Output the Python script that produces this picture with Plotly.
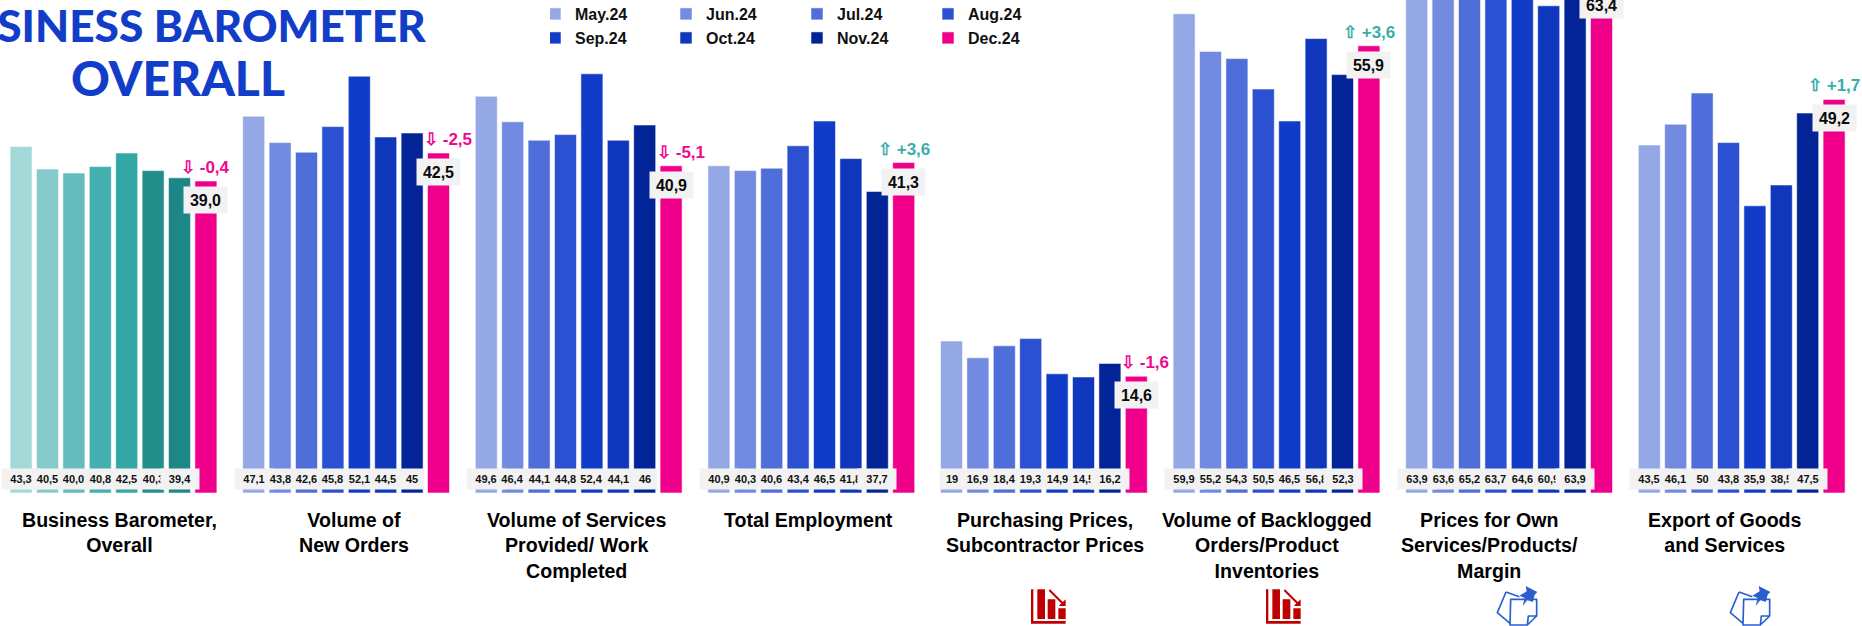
import base64
import plotly.graph_objects as go

# Survey panels and monthly readings
months = ["May.24", "Jun.24", "Jul.24", "Aug.24", "Sep.24", "Oct.24", "Nov.24", "Dec.24"]
panels = [
    "Business Barometer,<br>Overall",
    "Volume of<br>New Orders",
    "Volume of Services<br>Provided/ Work<br>Completed",
    "Total Employment",
    "Purchasing Prices,<br>Subcontractor Prices",
    "Volume of Backlogged<br>Orders/Product<br>Inventories",
    "Prices for Own<br>Services/Products/<br>Margin",
    "Export of Goods<br>and Services",
]
overall = [43.3, 40.5, 40.0, 40.8, 42.5, 40.3, 39.4, 39.0]
new_orders = [47.1, 43.8, 42.6, 45.8, 52.1, 44.5, 45, 42.5]
services = [49.6, 46.4, 44.1, 44.8, 52.4, 44.1, 46, 40.9]
employment = [40.9, 40.3, 40.6, 43.4, 46.5, 41.8, 37.7, 41.3]
purchasing = [19, 16.9, 18.4, 19.3, 14.9, 14.5, 16.2, 14.6]
backlog = [59.9, 55.2, 54.3, 50.5, 46.5, 56.8, 52.3, 55.9]
own_prices = [63.9, 63.6, 65.2, 63.7, 64.6, 60.9, 63.9, 63.4]
exports = [43.5, 46.1, 50, 43.8, 35.9, 38.5, 47.5, 49.2]
series = [overall, new_orders, services, employment, purchasing, backlog, own_prices, exports]
changes = ["⇩ -0,4", "⇩ -2,5", "⇩ -5,1", "⇧ +3,6", "⇩ -1,6", "⇧ +3,6", None, "⇧ +1,7"]
change_shift_px = [0, 9, 10, 0, 9, 0, 0, 0]

blues = ["#95A8E6", "#728BE0", "#4F6ED9", "#2B50D1", "#113CC8", "#0E37BC", "#022496", "#F0008A"]
teals = ["#A3D9D8", "#85CBC9", "#64BCBC", "#43B0AF", "#32A7A5", "#248E8B", "#1D8686", "#F0008A"]
PINK = "#F0088F"
TEAL = "#3AADAA"
TITLE_BLUE = "#123DC8"
LABEL_BG = "#F2F2F2"
FONT = "Liberation Sans"

# Page geometry, in pixels
W, H = 1862, 626
BASE_Y = 493
PX_PER_UNIT = 8.0
GROUP_PX = 232.6
SLOT_PX = 26.4
BAR_PX = 22.0
FIRST_CENTER_PX = 113.5
Y_MAX = BASE_Y / PX_PER_UNIT


def slot_x(group, month):
    return group + (month - 3.5) * SLOT_PX / GROUP_PX


def px_to_x(px):
    return (px - FIRST_CENTER_PX) / GROUP_PX


def value_text(value, group):
    # The overall panel keeps one decimal on every reading
    text = f"{value:.1f}" if group == 0 else f"{value:g}"
    return text.replace(".", ",")


fig = go.Figure()
# The teal overall panel is listed last in each trace so the legend keys stay blue
order = list(range(1, len(panels))) + [0]
for m, month in enumerate(months):
    fig.add_trace(go.Bar(
        x=order,
        y=[series[g][m] for g in order],
        name=month,
        legend="legend" if m < 4 else "legend2",
        marker=dict(
            color=[blues[m]] * (len(panels) - 1) + [teals[m]],
            line=dict(color="rgba(255,255,255,0.55)", width=1),
        ),
        hoverinfo="y",
    ))

annotations = []
for g, values in enumerate(series):
    # Value chips along the foot of the bars; the outer chips are wider
    for m, v in enumerate(values[:-1]):
        text = value_text(v, g)
        chip_w = 7 * len(text) + 8 if m in (0, 6) else 27
        annotations.append(dict(
            x=slot_x(g, m), xref="x", y=(BASE_Y - 479) / BASE_Y, yref="paper",
            text=f"<b>{text}</b>", showarrow=False, xanchor="center", yanchor="middle",
            font=dict(family=FONT, size=11, color="#111111"),
            bgcolor=LABEL_BG, width=chip_w, height=18,
        ))
    # December callout chip hanging from the bar top
    annotations.append(dict(
        x=slot_x(g, 7), xref="x", y=values[-1] / Y_MAX, yref="paper", yshift=-5,
        text=f"<b>{values[-1]:.1f}</b>".replace(".", ","), showarrow=False,
        xanchor="center", yanchor="top",
        font=dict(family=FONT, size=16, color="#0A0A0A"),
        bgcolor=LABEL_BG, width=41, height=24,
    ))
    if changes[g]:
        annotations.append(dict(
            x=slot_x(g, 7), xref="x", xshift=change_shift_px[g],
            y=values[-1] / Y_MAX, yref="paper", yshift=2,
            text=f"<b>{changes[g]}</b>", showarrow=False, xanchor="center", yanchor="bottom",
            font=dict(family=FONT, size=17, color=PINK if changes[g][0] == "⇩" else TEAL),
        ))

# Panel captions under the baseline
caption_centers = [119, 354, 576, 808, 1045, 1267, 1489, 1725]
for text, cx in zip(panels, caption_centers):
    annotations.append(dict(
        x=px_to_x(cx), xref="x", y=-(507 - BASE_Y) / BASE_Y, yref="paper",
        text=f"<b>{text}</b>", showarrow=False, xanchor="center", yanchor="top", align="center",
        font=dict(family=FONT, size=19.6, color="#000000"),
    ))

# Heading, wider than the space to its left so it runs off the page edge
for line, x_px, y_px, size in (("BUSINESS BAROMETER", 180.5, 24, 44.2), ("OVERALL", 178, 78, 48)):
    annotations.append(dict(
        x=x_px / W, xref="paper", y=1 - y_px / BASE_Y, yref="paper",
        text=line, showarrow=False, xanchor="center", yanchor="middle",
        font=dict(family="Lato", size=size, weight=900, color=TITLE_BLUE),
    ))

# Footer pictograms
DOWN_ICON = """<svg xmlns="http://www.w3.org/2000/svg" viewBox="0 0 180 138">
<path d="M33 28H40V123H137V131H33Z M52 28H75V117H52Z M83 58H106V117H83Z M115 85H137V117H115Z M137 58V78H116Z" fill="#C00000"/>
<path d="M88 30L130 72" stroke="#C00000" stroke-width="6" fill="none"/></svg>"""
PIN_ICON = """<svg xmlns="http://www.w3.org/2000/svg" viewBox="0 0 180 138">
<path d="M48 36L88 50M48 36L22 98L60 130M62 58H140V108L112 135H60ZM112 135L115 108H140" stroke="#2B5FCE" stroke-width="5" fill="none" stroke-linejoin="round"/>
<path d="M107 18L142 36L134 44L128 66L112 60L98 78L104 54L88 47L110 34Z" fill="#2B5FCE"/></svg>"""


def icon(svg, left, top=580):
    data = base64.b64encode(svg.encode()).decode()
    return dict(source=f"data:image/svg+xml;base64,{data}", xref="paper", yref="paper",
                x=left / W, y=1 - top / BASE_Y, sizex=60 / W, sizey=46 / BASE_Y,
                xanchor="left", yanchor="top", sizing="stretch", layer="above")


images = [icon(DOWN_ICON, 1020), icon(DOWN_ICON, 1255), icon(PIN_ICON, 1490), icon(PIN_ICON, 1723)]

legend_style = dict(
    orientation="h", xanchor="left", yanchor="middle", xref="paper", yref="paper",
    entrywidth=101, entrywidthmode="pixels", itemclick=False, itemdoubleclick=False,
    indentation=-15,
    bgcolor="rgba(0,0,0,0)", font=dict(family=FONT, size=16, weight=700, color="#111111"),
    tracegroupgap=0,
)

fig.update_layout(
    width=W, height=H,
    margin=dict(l=0, r=0, t=0, b=H - BASE_Y, pad=0, autoexpand=False),
    paper_bgcolor="white", plot_bgcolor="white",
    barmode="group",
    bargap=1 - 8 * SLOT_PX / GROUP_PX,
    bargroupgap=1 - BAR_PX / SLOT_PX,
    showlegend=True,
    legend=dict(x=550 / W, y=1 - 14 / BASE_Y, **legend_style),
    legend2=dict(x=550 / W, y=1 - 38 / BASE_Y, **legend_style),
    xaxis=dict(range=[px_to_x(0), px_to_x(W)], visible=False, fixedrange=True),
    yaxis=dict(range=[0, Y_MAX], visible=False, fixedrange=True),
    annotations=annotations,
    images=images,
)

fig.write_html("out.html", config={"displayModeBar": False})
